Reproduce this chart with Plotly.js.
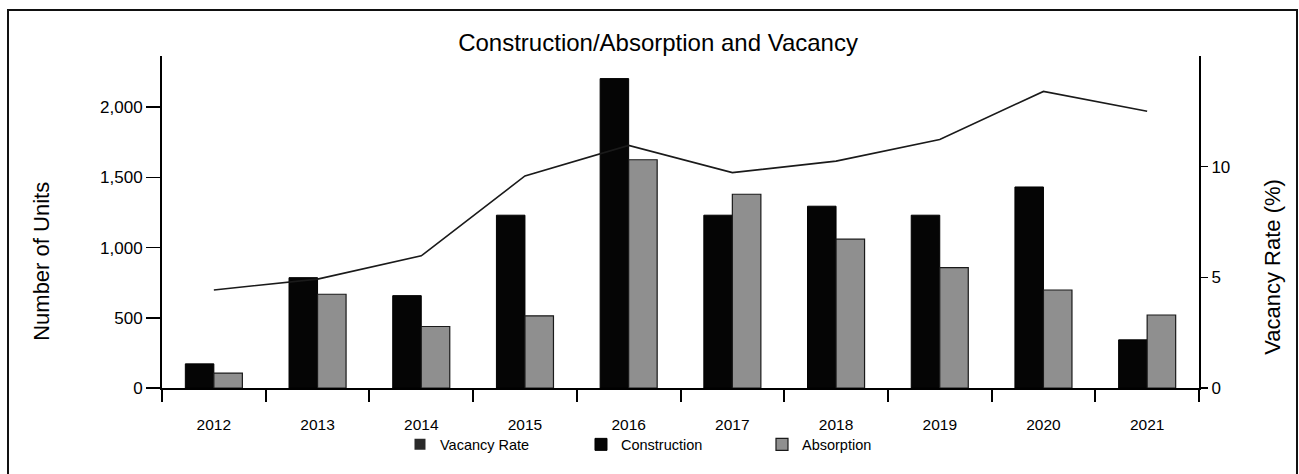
<!DOCTYPE html>
<html>
<head>
<meta charset="utf-8">
<script src="https://cdn.plot.ly/plotly-3.0.1.min.js"></script>
<style>
html,body{margin:0;padding:0;background:#fff;}
#chart{width:1299px;height:474px;}
</style>
</head>
<body>
<div id="chart"></div>
<script>
const years = ['2012','2013','2014','2015','2016','2017','2018','2019','2020','2021'];
const construction = [172, 786, 658, 1231, 2204, 1231, 1295, 1231, 1432, 343];
const absorption = [106, 668, 438, 514, 1626, 1380, 1060, 857, 698, 520];
const vacancyRate = [4.43, 4.92, 5.97, 9.58, 10.96, 9.73, 10.25, 11.23, 13.4, 12.5];
const leftTicks = [0, 500, 1000, 1500, 2000];
const rightTicks = [0, 5, 10];

const FONT = 'Liberation Sans, Arial, Helvetica, sans-serif';

const traces = [
  {
    type: 'scatter', mode: 'lines', name: 'Vacancy Rate',
    x: years, y: vacancyRate, yaxis: 'y2',
    line: {color: '#1a1a1a', width: 1.6},
    showlegend: false
  },
  {
    type: 'scatter', mode: 'markers', name: 'Vacancy Rate',
    x: years, y: vacancyRate.map(() => null), yaxis: 'y2',
    marker: {symbol: 'square', size: 11, color: '#2a2a2a'},
    showlegend: true, hoverinfo: 'skip'
  },
  {
    type: 'bar', name: 'Construction', x: years, y: construction,
    marker: {color: '#050505', line: {color: '#000', width: 1}}
  },
  {
    type: 'bar', name: 'Absorption', x: years, y: absorption,
    marker: {color: '#8f8f8f', line: {color: '#1a1a1a', width: 1.2}}
  }
];

const layout = {
  width: 1299, height: 474,
  paper_bgcolor: '#fff', plot_bgcolor: '#fff',
  font: {family: FONT, color: '#000'},
  margin: {l: 162, r: 100, t: 56, b: 86},
  showlegend: true,
  barmode: 'group', bargap: 0.45, bargroupgap: 0,
  title: {
    text: 'Construction/Absorption and Vacancy',
    font: {family: FONT, size: 24, color: '#000'},
    x: 0.5066, xanchor: 'center', y: 0.911, yanchor: 'middle'
  },
  xaxis: {
    type: 'category', tickvals: years, ticktext: years, range: [-0.5, 9.5],
    showline: true, linecolor: '#000', linewidth: 2,
    ticks: 'outside', tickson: 'boundaries', ticklen: 12, tickwidth: 2, tickcolor: '#000',
    ticklabelstandoff: 21,
    tickfont: {family: FONT, size: 15.5, color: '#000'},
    showgrid: false, zeroline: false, automargin: false
  },
  yaxis: {
    range: [0, 2365], tickvals: leftTicks, tickformat: ',',
    showline: true, linecolor: '#000', linewidth: 2,
    ticks: 'outside', ticklen: 14, tickwidth: 1.5, tickcolor: '#000',
    tickfont: {family: FONT, size: 17, color: '#000'},
    showgrid: false, zeroline: false, automargin: false
  },
  yaxis2: {
    range: [0, 15], tickvals: rightTicks, overlaying: 'y', side: 'right',
    showline: true, linecolor: '#000', linewidth: 2,
    ticks: 'outside', ticklen: 7, tickwidth: 1.5, tickcolor: '#000',
    tickfont: {family: FONT, size: 17, color: '#000'},
    showgrid: false, zeroline: false, automargin: false
  },
  annotations: [
    {text: 'Number of Units', xref: 'paper', yref: 'paper',
     x: (42 - 162) / 1037, y: (388.3 - 262) / 332.3, xanchor: 'center', yanchor: 'middle',
     textangle: -90, showarrow: false, font: {family: FONT, size: 22, color: '#000'}},
    {text: 'Vacancy Rate (%)', xref: 'paper', yref: 'paper',
     x: (1273 - 162) / 1037, y: (388.3 - 267) / 332.3, xanchor: 'center', yanchor: 'middle',
     textangle: -90, showarrow: false, font: {family: FONT, size: 22, color: '#000'}}
  ],
  legend: {
    orientation: 'h', x: 0.2295, xanchor: 'left', y: -0.17, yanchor: 'middle',
    font: {family: FONT, size: 14.5, color: '#000'},
    bgcolor: 'rgba(0,0,0,0)', entrywidth: 136, traceorder: 'normal',
    itemclick: false
  },
  shapes: [
    {type: 'rect', xref: 'paper', yref: 'paper',
     x0: -0.1485, x1: 1.0945, y0: -0.36, y1: 1.1384,
     line: {color: '#111', width: 2}, fillcolor: 'rgba(0,0,0,0)', layer: 'below'}
  ]
};

Plotly.newPlot('chart', traces, layout, {displayModeBar: false, staticPlot: true});
</script>
</body>
</html>
